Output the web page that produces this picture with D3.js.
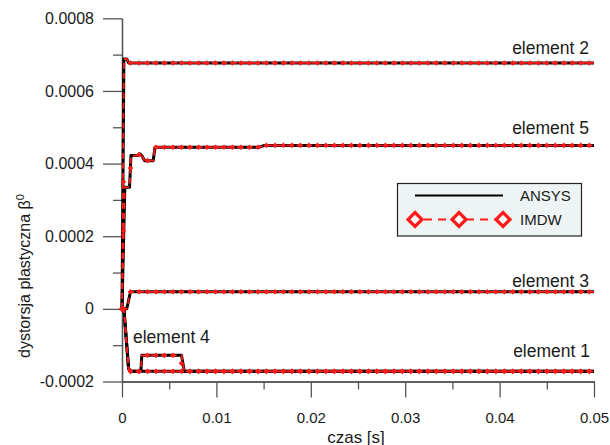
<!DOCTYPE html>
<html><head><meta charset="utf-8">
<script src="https://cdn.jsdelivr.net/npm/d3@7"></script>
<style>
html,body{margin:0;padding:0;background:#fff;}
svg{display:block;font-family:"Liberation Sans",Arial,sans-serif;}
</style></head>
<body><svg id="c" width="610" height="445"></svg>
<script>
// ---- axis ticks ----
const yMajor = [-0.0002, 0, 0.0002, 0.0004, 0.0006, 0.0008];
const yMajorLabels = ["-0.0002", "0", "0.0002", "0.0004", "0.0006", "0.0008"];
const yMinor = [-0.0001, 0.0001, 0.0003, 0.0005, 0.0007];
const xMajor = [0, 0.01, 0.02, 0.03, 0.04, 0.05];
const xMajorLabels = ["0", "0.01", "0.02", "0.03", "0.04", "0.05"];
const xMinor = [0.005, 0.015, 0.025, 0.035, 0.045];

// ---- ANSYS / IMDW curves (time breakpoints and values) ----
const e2T = [0, 0.0002, 0.0005, 0.0007, 0.05];
const e2V = [0, 0.000688, 0.000688, 0.000677, 0.000677];
const e5T = [0, 0.0003, 0.0008, 0.00095, 0.0017, 0.0019, 0.0021, 0.0024, 0.0033, 0.0035, 0.0145, 0.0151, 0.05];
const e5V = [0, 0.000335, 0.000335, 0.000422, 0.000422, 0.000427, 0.000422, 0.000408, 0.000408, 0.000445, 0.000445, 0.00045, 0.00045];
const e3T = [0, 0.0005, 0.0009, 0.05];
const e3V = [0, 0, 0.000047, 0.000047];
const e1T = [0, 0.0002, 0.0007, 0.001, 0.05];
const e1V = [0, 0, -0.000165, -0.000172, -0.000172];
const e4T = [0, 0.0002, 0.0007, 0.001, 0.002, 0.0021, 0.0063, 0.0066, 0.05];
const e4V = [0, 0, -0.000165, -0.000172, -0.000172, -0.000128, -0.000128, -0.000172, -0.000172];

// ---- IMDW marker samples ----
const markT = [0, 0.00015,
  0.0009, 0.0018, 0.0027, 0.0036, 0.0045, 0.0054, 0.0063, 0.0072, 0.0081, 0.009, 0.0099,
  0.0108, 0.0117, 0.0126, 0.0135, 0.0144, 0.0153, 0.0162, 0.0171, 0.018, 0.0189, 0.0198,
  0.0207, 0.0216, 0.0225, 0.0234, 0.0243, 0.0252, 0.0261, 0.027, 0.0279, 0.0288, 0.0297,
  0.0306, 0.0315, 0.0324, 0.0333, 0.0342, 0.0351, 0.036, 0.0369, 0.0378, 0.0387, 0.0396,
  0.0405, 0.0414, 0.0423, 0.0432, 0.0441, 0.045, 0.0459, 0.0468, 0.0477, 0.0486, 0.0495];
const e2M = [0, 0.00035,
  0.000677, 0.000677, 0.000677, 0.000677, 0.000677, 0.000677, 0.000677, 0.000677, 0.000677, 0.000677, 0.000677,
  0.000677, 0.000677, 0.000677, 0.000677, 0.000677, 0.000677, 0.000677, 0.000677, 0.000677, 0.000677, 0.000677,
  0.000677, 0.000677, 0.000677, 0.000677, 0.000677, 0.000677, 0.000677, 0.000677, 0.000677, 0.000677, 0.000677,
  0.000677, 0.000677, 0.000677, 0.000677, 0.000677, 0.000677, 0.000677, 0.000677, 0.000677, 0.000677, 0.000677,
  0.000677, 0.000677, 0.000677, 0.000677, 0.000677, 0.000677, 0.000677, 0.000677, 0.000677, 0.000677, 0.000677];
const e5M = [0, 0.000215,
  0.000388, 0.000425, 0.000408, 0.000445, 0.000445, 0.000445, 0.000445, 0.000445, 0.000445, 0.000445, 0.000445,
  0.000445, 0.000445, 0.000445, 0.000445, 0.000445, 0.00045, 0.00045, 0.00045, 0.00045, 0.00045, 0.00045,
  0.00045, 0.00045, 0.00045, 0.00045, 0.00045, 0.00045, 0.00045, 0.00045, 0.00045, 0.00045, 0.00045,
  0.00045, 0.00045, 0.00045, 0.00045, 0.00045, 0.00045, 0.00045, 0.00045, 0.00045, 0.00045, 0.00045,
  0.00045, 0.00045, 0.00045, 0.00045, 0.00045, 0.00045, 0.00045, 0.00045, 0.00045, 0.00045, 0.00045];
const e3M = [0, 0,
  0.000047, 0.000047, 0.000047, 0.000047, 0.000047, 0.000047, 0.000047, 0.000047, 0.000047, 0.000047, 0.000047,
  0.000047, 0.000047, 0.000047, 0.000047, 0.000047, 0.000047, 0.000047, 0.000047, 0.000047, 0.000047, 0.000047,
  0.000047, 0.000047, 0.000047, 0.000047, 0.000047, 0.000047, 0.000047, 0.000047, 0.000047, 0.000047, 0.000047,
  0.000047, 0.000047, 0.000047, 0.000047, 0.000047, 0.000047, 0.000047, 0.000047, 0.000047, 0.000047, 0.000047,
  0.000047, 0.000047, 0.000047, 0.000047, 0.000047, 0.000047, 0.000047, 0.000047, 0.000047, 0.000047, 0.000047];
const e1M = [0, 0,
  -0.000172, -0.000172, -0.000172, -0.000172, -0.000172, -0.000172, -0.000172, -0.000172, -0.000172, -0.000172, -0.000172,
  -0.000172, -0.000172, -0.000172, -0.000172, -0.000172, -0.000172, -0.000172, -0.000172, -0.000172, -0.000172, -0.000172,
  -0.000172, -0.000172, -0.000172, -0.000172, -0.000172, -0.000172, -0.000172, -0.000172, -0.000172, -0.000172, -0.000172,
  -0.000172, -0.000172, -0.000172, -0.000172, -0.000172, -0.000172, -0.000172, -0.000172, -0.000172, -0.000172, -0.000172,
  -0.000172, -0.000172, -0.000172, -0.000172, -0.000172, -0.000172, -0.000172, -0.000172, -0.000172, -0.000172, -0.000172];
const e4M = [0, 0,
  -0.000172, -0.000172, -0.000128, -0.000128, -0.000128, -0.000128, -0.00015, -0.000172, -0.000172, -0.000172, -0.000172,
  -0.000172, -0.000172, -0.000172, -0.000172, -0.000172, -0.000172, -0.000172, -0.000172, -0.000172, -0.000172, -0.000172,
  -0.000172, -0.000172, -0.000172, -0.000172, -0.000172, -0.000172, -0.000172, -0.000172, -0.000172, -0.000172, -0.000172,
  -0.000172, -0.000172, -0.000172, -0.000172, -0.000172, -0.000172, -0.000172, -0.000172, -0.000172, -0.000172, -0.000172,
  -0.000172, -0.000172, -0.000172, -0.000172, -0.000172, -0.000172, -0.000172, -0.000172, -0.000172, -0.000172, -0.000172];

const elementNames = ["element 2", "element 5", "element 3", "element 1", "element 4"];
const seriesNames = ["ANSYS", "IMDW"];

// ---- build ----
const svg = d3.select("#c");
const x = d3.scaleLinear().domain([0, 0.05]).range([122, 594]);
const y = d3.scaleLinear().domain([-0.0002, 0.0008]).range([381.5, 18.3]);
const axisColor = "#555";
const txtColor = "#1a1a1a";

// minor ticks
const gy = svg.append("g").attr("transform", `translate(${x(0)},0)`);
gy.call(d3.axisLeft(y).tickValues(yMinor).tickSize(9).tickSizeOuter(0).tickFormat(""));
const gy2 = svg.append("g").attr("transform", `translate(${x(0)},0)`);
gy2.call(d3.axisLeft(y).tickValues(yMajor).tickSize(19).tickSizeOuter(0).tickPadding(9)
  .tickFormat((d, i) => yMajorLabels[i]));
const gx = svg.append("g").attr("transform", `translate(0,${y(-0.0002)})`);
gx.call(d3.axisBottom(x).tickValues(xMinor).tickSize(8).tickSizeOuter(0).tickFormat(""));
const gx2 = svg.append("g").attr("transform", `translate(0,${y(-0.0002)})`);
gx2.call(d3.axisBottom(x).tickValues(xMajor).tickSize(16).tickSizeOuter(0).tickPadding(15)
  .tickFormat((d, i) => xMajorLabels[i]));
svg.selectAll(".domain, .tick line").attr("stroke", axisColor).attr("stroke-width", 1.3);
gy2.selectAll("text").attr("font-size", 16).attr("fill", txtColor).attr("font-family", "Liberation Sans, Arial, sans-serif");
gx2.selectAll("text").attr("font-size", 15).attr("fill", txtColor).attr("font-family", "Liberation Sans, Arial, sans-serif");

// axis titles
svg.append("text").attr("x", 356).attr("y", 442.5).attr("text-anchor", "middle")
  .attr("font-size", 17).attr("fill", txtColor).text("czas [s]");
const yt = svg.append("text").attr("transform", "translate(30,358) rotate(-90)")
  .attr("text-anchor", "start").attr("font-size", 16).attr("fill", txtColor);
yt.append("tspan").text("dystorsja plastyczna β");
yt.append("tspan").attr("font-size", 11).attr("dy", -6).text("0");

// curves
const curves = [[e2T, e2V], [e5T, e5V], [e3T, e3V], [e1T, e1V], [e4T, e4V]];
const marks = [e2M, e5M, e3M, e1M, e4M];
const line = d3.line().x(d => x(d[0])).y(d => y(d[1]));
const g = svg.append("g");
curves.forEach(([T, V]) => {
  g.append("path").attr("d", line(T.map((t, i) => [t, V[i]])))
    .attr("fill", "none").attr("stroke", "#000").attr("stroke-width", 3).attr("stroke-linejoin", "round");
});
curves.forEach(([T, V]) => {
  g.append("path").attr("d", line(T.map((t, i) => [t, V[i]])))
    .attr("fill", "none").attr("stroke", "#ff1a1a").attr("stroke-width", 1.8).attr("stroke-dasharray", "6,4");
});
const diamond = (cx, cy, r) => `M${cx},${cy - r}L${cx + r},${cy}L${cx},${cy + r}L${cx - r},${cy}Z`;
marks.forEach(M => {
  g.selectAll(null).data(markT.map((t, i) => [t, M[i]])).enter().append("path")
    .attr("d", d => diamond(x(d[0]), y(d[1]), 2.8)).attr("fill", "#ff1a1a");
});

// element labels
const labelPos = [[589, 53.5, "end"], [589, 133.5, "end"], [589, 287, "end"], [590, 357, "end"], [133, 343, "start"]];
elementNames.forEach((n, i) => {
  svg.append("text").attr("x", labelPos[i][0]).attr("y", labelPos[i][1]).attr("text-anchor", labelPos[i][2])
    .attr("font-size", 17.5).attr("fill", txtColor).text(n);
});

// legend
const lg = svg.append("g");
lg.append("rect").attr("x", 397.5).attr("y", 183.5).attr("width", 184).attr("height", 52.5)
  .attr("fill", "#eef3f3").attr("stroke", "#222").attr("stroke-width", 1.2);
lg.append("line").attr("x1", 415).attr("x2", 503).attr("y1", 195.5).attr("y2", 195.5)
  .attr("stroke", "#000").attr("stroke-width", 2.2);
lg.append("line").attr("x1", 415).attr("x2", 503).attr("y1", 219.5).attr("y2", 219.5)
  .attr("stroke", "#ff1a1a").attr("stroke-width", 2).attr("stroke-dasharray", "8,6").attr("stroke-dashoffset", -9);
[415, 459, 503].forEach(cx => {
  lg.append("path").attr("d", diamond(cx, 219.5, 7)).attr("fill", "#fff").attr("stroke", "#ff1a1a").attr("stroke-width", 3.2);
});
lg.append("text").attr("x", 520).attr("y", 201).attr("font-size", 15).attr("fill", txtColor).text(seriesNames[0]);
lg.append("text").attr("x", 520).attr("y", 224.5).attr("font-size", 15).attr("fill", txtColor).text(seriesNames[1]);
</script></body></html>
